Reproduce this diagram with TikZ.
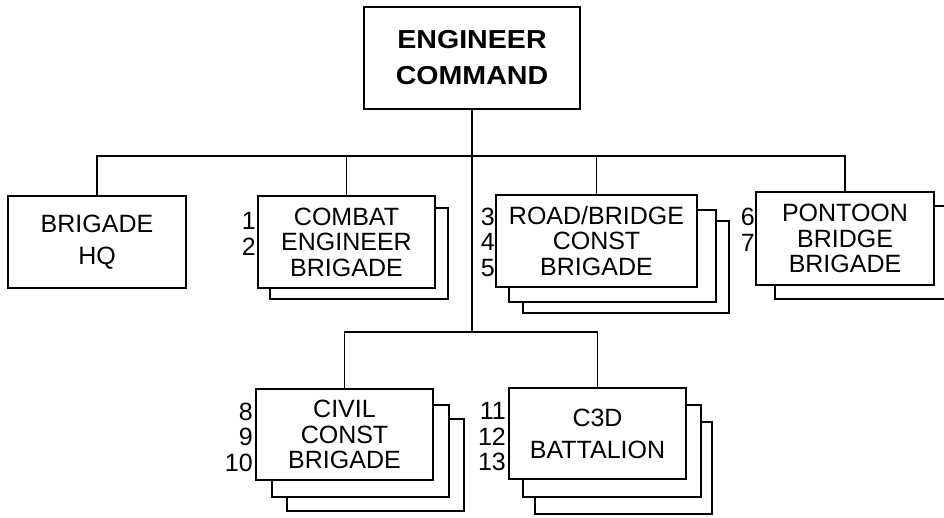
\documentclass[tikz,border=0pt]{standalone}
\usepackage{fontspec}
\setmainfont{Liberation Sans}
\newfontfamily\headfont[FakeStretch=1.1]{Liberation Sans}
\newcommand\bx[7][]{%
  \node[orgbox, #1, minimum width={(#5-#3)*1pt}, minimum height={(#6-#4)*1pt}]
    (#2) at ({(#3+#5)/2},{(#4+#6)/2}) {#7};}
\begin{document}
\begin{tikzpicture}[x=1pt,y=-1pt,
  orgbox/.style={draw, fill=white, line width=1.3pt, inner sep=0pt, align=center,
    font=\fontsize{25}{25.5}\selectfont},
  wide/.style={font=\fontsize{25}{32}\selectfont},
  headbox/.style={font=\headfont\fontsize{26}{36}\selectfont\bfseries},
  nums/.style={inner sep=0pt, align=right, anchor=east, font=\fontsize{25}{25.5}\selectfont},
  link/.style={line width=1.3pt}]
\clip (0,0) rectangle (944,517);
\fill[white] (0,0) rectangle (944,517);
% top
\bx[headbox]{top}{364}{7}{580}{109}{ENGINEER\\COMMAND}
\coordinate (j1) at (472,156);
\coordinate (j2) at (472,332);
% first row
\bx[wide]{hq}{8}{196}{186}{288}{BRIGADE\\HQ}
\bx{cmbB}{270}{208}{448}{299}{}
\bx{cmb}{258}{196}{435}{288}{COMBAT\\ENGINEER\\BRIGADE}
\bx{rdC}{523}{221}{729}{313}{}
\bx{rdB}{509}{210}{716}{302}{}
\bx{rd}{496}{195}{697}{287}{ROAD/BRIDGE\\CONST\\BRIGADE}
\bx{ponB}{775}{206}{953}{299}{}
\bx{pon}{756}{192}{934}{285}{PONTOON\\BRIDGE\\BRIGADE}
% second row
\bx{civC}{287}{419}{464}{511}{}
\bx{civB}{272}{405}{449}{497}{}
\bx{civ}{256}{389}{433}{480}{CIVIL\\CONST\\BRIGADE}
\bx{cddC}{535}{422}{712}{514}{}
\bx{cddB}{523}{405}{701}{497}{}
\bx[wide]{cdd}{509}{388}{686}{479}{C3D\\BATTALION}
% numbers
\node[nums] (n12) at (256,234) {1\\2};
\node[nums] (n345) at (495,242) {3\\4\\5};
\node[nums] (n67) at (755,230) {6\\7};
\node[nums] (n810) at (253,437) {8\\9\\10};
\node[nums] (n1113) at (506,437) {11\\12\\13};
% connectors
\draw[link] (top.south) -- (j2);
\draw[link] (hq.north) |- (j1);
\draw[link] (pon.north) |- (j1);
\draw[link] (cmb.north) -- (cmb.north |- j1);
\draw[link] (rd.north) -- (rd.north |- j1);
\draw[link] (civ.north) |- (j2);
\draw[link] (cdd.north) |- (j2);
\end{tikzpicture}
\end{document}
